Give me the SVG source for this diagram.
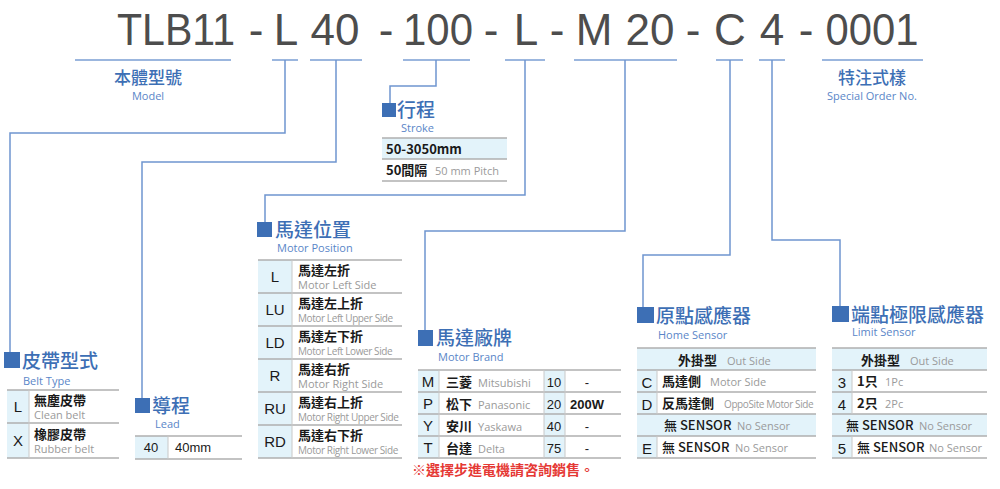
<svg xmlns="http://www.w3.org/2000/svg" width="1000" height="489" viewBox="0 0 1000 489">
<style>
.t{font-family:"Liberation Sans",Arial,sans-serif;font-size:44px;fill:#4d4d4d;text-anchor:middle}
.ul{stroke:#7b9fd4;stroke-width:1.5;fill:none}
.cn{stroke:#6f95cf;stroke-width:1.5;fill:none}
.h{font-family:"Noto Sans CJK TC","Noto Sans",sans-serif;font-size:19px;fill:#3d6fb5;font-weight:500}
.hc{font-family:"Noto Sans CJK TC","Noto Sans",sans-serif;font-size:17px;fill:#3d6fb5;font-weight:500;text-anchor:middle}
.s{font-family:"Open Sans","Noto Sans",sans-serif;font-size:11px;fill:#5a86c8}
.sc{font-family:"Open Sans","Noto Sans",sans-serif;font-size:11px;fill:#5a86c8;text-anchor:middle}
.sq{fill:#3d6fb5}
.k{fill:#e3f3fa}
.ln{stroke:#b0b0b0;stroke-width:1.5}
.lv{stroke:#c8c8c8;stroke-width:1}
.b{font-family:"Noto Sans CJK TC","Noto Sans",sans-serif;font-size:13px;fill:#1a1a1a;font-weight:700}
.sn{font-family:"Noto Sans CJK TC","Noto Sans",sans-serif;font-size:13px;fill:#1a1a1a;font-weight:500}
.kk{font-family:"Liberation Sans",Arial,sans-serif;font-size:15px;fill:#1a1a1a;text-anchor:middle}
.g{font-family:"Open Sans","Noto Sans",sans-serif;font-size:11px;fill:#9a9a9a}
.gs{font-family:"Open Sans","Noto Sans",sans-serif;font-size:10px;fill:#9a9a9a;letter-spacing:-0.4px}
.n{font-family:"Liberation Sans",Arial,sans-serif;font-size:13px;fill:#1a1a1a}
</style>
<rect width="1000" height="489" fill="#fff"/>
<g id="title">
<text class="t" x="176" y="45" textLength="118" lengthAdjust="spacingAndGlyphs">TLB11</text><text class="t" x="256" y="45">-</text><text class="t" x="286" y="45">L</text><text class="t" x="335" y="45">40</text><text class="t" x="386" y="45">-</text><text class="t" x="438" y="45" textLength="70" lengthAdjust="spacingAndGlyphs">100</text><text class="t" x="491" y="45">-</text><text class="t" x="526" y="45">L</text><text class="t" x="557" y="45">-</text><text class="t" x="594" y="45">M</text><text class="t" x="650" y="45">20</text><text class="t" x="693" y="45">-</text><text class="t" x="730" y="45">C</text><text class="t" x="772" y="45">4</text><text class="t" x="806" y="45">-</text><text class="t" x="872" y="45" textLength="93" lengthAdjust="spacingAndGlyphs">0001</text>
</g>
<g id="underlines">
<path class="ul" d="M75 60H231M272 60H298M310 60H362M403 60H470M505 60H545M574 60H677M716 60H743M759 60H785M822 60H923"/>
</g>
<g id="connectors">
<path class="cn" d="M285 60V133H10V355"/>
<path class="cn" d="M336 60V162H142V398"/>
<path class="cn" d="M436 60V86H390V103"/>
<path class="cn" d="M525 60V195H265V222"/>
<path class="cn" d="M625 60V231H425V330"/>
<path class="cn" d="M730 60V255H643V307"/>
<path class="cn" d="M772 60V240H840V306"/>
</g>
<g id="model"><text class="hc" x="148" y="84">本體型號</text><text class="sc" x="148" y="100">Model</text></g>
<g id="special"><text class="hc" x="872" y="84">特注式樣</text><text class="sc" x="872" y="100">Special Order No.</text></g>
<g id="stroke">
<rect class="sq" x="382" y="103" width="14" height="14"/>
<text class="h" x="397" y="117">行程</text><text class="s" x="401" y="132">Stroke</text>
<rect class="k" x="382" y="138" width="125" height="21"/>
<path class="ln" d="M382 138H507M382 159H507M382 181H507"/>
<text class="b" x="386" y="154">50-3050mm</text>
<text class="b" x="386" y="175">50間隔</text><text class="g" x="435" y="175">50 mm Pitch</text>
</g>
<g id="belt">
<rect class="sq" x="4" y="352" width="16" height="16"/>
<text class="h" x="22" y="368">皮帶型式</text><text class="s" x="23" y="385">Belt Type</text>
<rect class="k" x="7" y="390" width="22" height="68"/>
<path class="ln" d="M7 390H119M7 423H119M7 458H119"/><path class="lv" d="M29 390V458"/>
<text class="kk" x="18" y="412">L</text><text class="kk" x="18" y="446">X</text>
<text class="b" x="34" y="405">無塵皮帶</text><text class="g" x="34" y="419">Clean belt</text>
<text class="b" x="34" y="439">橡膠皮帶</text><text class="g" x="34" y="453">Rubber belt</text>
</g>
<g id="lead">
<rect class="sq" x="135" y="398" width="15" height="15"/>
<text class="h" x="152" y="413">導程</text><text class="s" x="155" y="428">Lead</text>
<rect class="k" x="135" y="436" width="33" height="23"/>
<path class="ln" d="M135 436H242M135 459H242"/><path class="lv" d="M168 436V459"/>
<text class="n" x="151" y="452" text-anchor="middle">40</text><text class="n" x="175" y="452">40mm</text>
</g>
<g id="position">
<rect class="sq" x="257" y="222" width="15" height="15"/>
<text class="h" x="275" y="237">馬達位置</text><text class="s" x="277" y="252">Motor Position</text>
<rect class="k" x="258" y="260" width="34" height="198"/>
<path class="ln" d="M258 260H402M258 293H402M258 326H402M258 359H402M258 392H402M258 425H402M258 458H402"/><path class="lv" d="M292 260V458"/>
<text class="kk" x="275" y="282">L</text><text class="kk" x="275" y="315">LU</text><text class="kk" x="275" y="348">LD</text><text class="kk" x="275" y="381">R</text><text class="kk" x="275" y="414">RU</text><text class="kk" x="275" y="447">RD</text>
<text class="b" x="298" y="275">馬達左折</text><text class="g" x="298" y="289">Motor Left Side</text>
<text class="b" x="298" y="308">馬達左上折</text><text class="gs" x="298" y="322">Motor Left Upper Side</text>
<text class="b" x="298" y="341">馬達左下折</text><text class="gs" x="298" y="355">Motor Left Lower Side</text>
<text class="b" x="298" y="374">馬達右折</text><text class="g" x="298" y="388">Motor Right Side</text>
<text class="b" x="298" y="407">馬達右上折</text><text class="gs" x="298" y="421">Motor Right Upper  Side</text>
<text class="b" x="298" y="440">馬達右下折</text><text class="gs" x="298" y="454">Motor Right Lower Side</text>
</g>
<g id="brand">
<rect class="sq" x="418" y="330" width="15" height="16"/>
<text class="h" x="436" y="345">馬達廠牌</text><text class="s" x="438" y="361">Motor Brand</text>
<rect class="k" x="418" y="370" width="21" height="88"/><rect class="k" x="544" y="370" width="21" height="88"/>
<path class="ln" d="M418 370H621M418 392H621M418 414H621M418 436H621M418 458H621"/><path class="lv" d="M439 370V458M544 370V458M565 370V458"/>
<text class="kk" x="428" y="387">M</text><text class="kk" x="428" y="409">P</text><text class="kk" x="428" y="431">Y</text><text class="kk" x="428" y="453">T</text>
<text class="b" x="446" y="387">三菱</text><text class="g" x="478" y="387">Mitsubishi</text>
<text class="b" x="446" y="409">松下</text><text class="g" x="478" y="409">Panasonic</text>
<text class="b" x="446" y="431">安川</text><text class="g" x="478" y="431">Yaskawa</text>
<text class="b" x="446" y="453">台達</text><text class="g" x="478" y="453">Delta</text>
<g class="n" text-anchor="middle"><text x="554" y="387">10</text><text x="554" y="409">20</text><text x="554" y="431">40</text><text x="554" y="453">75</text>
<text x="587" y="387">-</text><text x="587" y="409" font-weight="bold">200W</text><text x="587" y="431">-</text><text x="587" y="453">-</text></g>
<text x="412" y="475" font-family="Noto Sans CJK TC,sans-serif" font-size="14" fill="#e53935" font-weight="700">※選擇步進電機請咨詢銷售。</text>
</g>
<g id="home">
<rect class="sq" x="637" y="307" width="17" height="16"/>
<text class="h" x="656" y="323">原點感應器</text><text class="s" x="658" y="339">Home Sensor</text>
<rect class="k" x="637" y="348" width="179" height="22"/><rect class="k" x="637" y="414" width="179" height="22"/><rect class="k" x="637" y="370" width="20" height="44"/><rect class="k" x="637" y="436" width="20" height="22"/>
<path class="ln" d="M637 348H816M637 370H816M637 392H816M637 414H816M637 436H816M637 458H816"/><path class="lv" d="M657 370V414M657 436V458"/>
<text class="b" x="678" y="365">外掛型</text><text class="g" x="727" y="365">Out Side</text>
<text class="kk" x="647" y="388">C</text><text class="b" x="662" y="386">馬達側</text><text class="g" x="710" y="386">Motor Side</text>
<text class="kk" x="647" y="410">D</text><text class="b" x="662" y="408">反馬達側</text><text class="gs" x="724" y="408">OppoSite Motor Side</text>
<text class="sn" x="664" y="430">無 SENSOR</text><text class="g" x="737" y="430">No Sensor</text>
<text class="kk" x="647" y="454">E</text><text class="sn" x="662" y="452">無 SENSOR</text><text class="g" x="735" y="452">No Sensor</text>
</g>
<g id="limit">
<rect class="sq" x="832" y="306" width="17" height="16"/>
<text class="h" x="851" y="322">端點極限感應器</text><text class="s" x="852" y="336">Limit Sensor</text>
<rect class="k" x="832" y="348" width="155" height="22"/><rect class="k" x="832" y="414" width="155" height="22"/><rect class="k" x="832" y="370" width="20" height="44"/><rect class="k" x="832" y="436" width="20" height="22"/>
<path class="ln" d="M832 348H987M832 370H987M832 392H987M832 414H987M832 436H987M832 458H987"/><path class="lv" d="M852 370V414M852 436V458"/>
<text class="b" x="861" y="365">外掛型</text><text class="g" x="910" y="365">Out Side</text>
<text class="kk" x="842" y="388">3</text><text class="b" x="857" y="386">1只</text><text class="g" x="885" y="386">1Pc</text>
<text class="kk" x="842" y="410">4</text><text class="b" x="857" y="408">2只</text><text class="g" x="885" y="408">2Pc</text>
<text class="sn" x="846" y="430">無 SENSOR</text><text class="g" x="919" y="430">No Sensor</text>
<text class="kk" x="842" y="454">5</text><text class="sn" x="857" y="452">無 SENSOR</text><text class="g" x="929" y="452">No Sensor</text>
</g>
</svg>
